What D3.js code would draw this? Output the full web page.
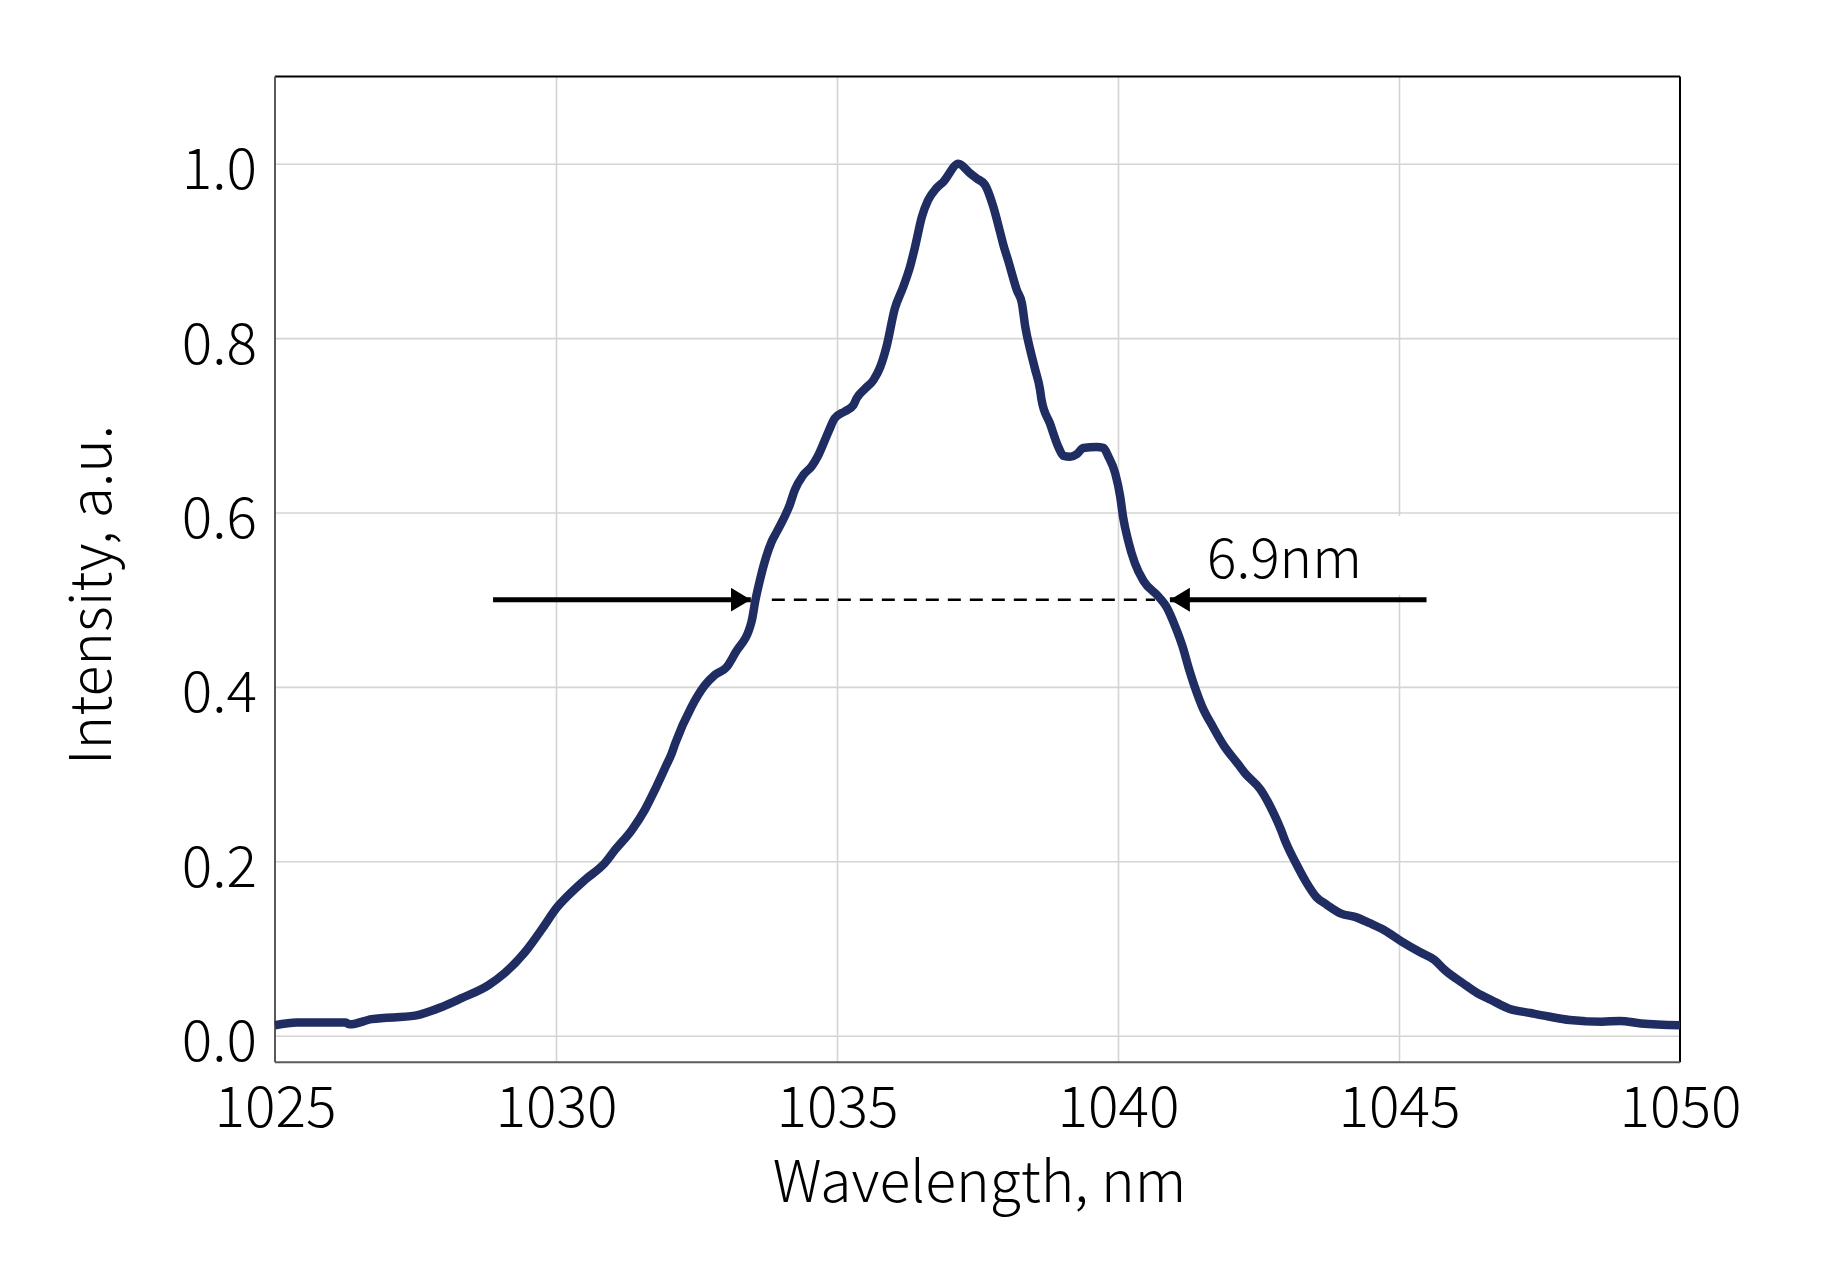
<!DOCTYPE html>
<html>
<head>
<meta charset="utf-8">
<script src="https://cdn.jsdelivr.net/npm/d3@7"></script>
<style>
  html, body { margin: 0; padding: 0; background: #fff; }
  svg { display: block; }
  text { font-family: "Noto Sans CJK SC", "Noto Sans", sans-serif; fill: #000; }
</style>
</head>
<body>
<script>
// ---- data ----
const wavelength = [1025.00,1025.39,1026.25,1026.33,1026.72,1027.49,1027.97,1028.32,1028.80,1029.09,1029.45,1029.80,1029.98,1030.22,1030.52,1030.87,1031.05,1031.35,1031.58,1031.76,1031.94,1032.06,1032.12,1032.41,1032.65,1032.83,1033.04,1033.19,1033.48,1033.55,1033.63,1033.84,1033.93,1034.16,1034.25,1034.40,1034.55,1034.67,1034.85,1034.96,1035.14,1035.29,1035.35,1035.50,1035.65,1035.77,1035.88,1036.03,1036.18,1036.30,1036.39,1036.51,1036.62,1036.77,1036.89,1037.16,1037.37,1037.49,1037.63,1037.78,1037.90,1037.96,1038.05,1038.20,1038.29,1038.35,1038.44,1038.53,1038.61,1038.64,1038.79,1038.94,1039.03,1039.15,1039.27,1039.38,1039.62,1039.74,1039.83,1039.95,1040.04,1040.09,1040.18,1040.30,1040.45,1040.73,1040.86,1041.02,1041.15,1041.27,1041.50,1041.69,1041.88,1042.13,1042.26,1042.54,1042.77,1042.90,1042.99,1043.18,1043.34,1043.53,1043.72,1043.97,1044.23,1044.48,1044.74,1045.05,1045.37,1045.63,1045.82,1046.14,1046.39,1046.64,1046.96,1047.34,1047.66,1048.04,1048.61,1048.93,1049.31,1050.00];
const intensity = [0.012,0.015,0.015,0.013,0.019,0.023,0.033,0.043,0.058,0.072,0.096,0.127,0.144,0.161,0.179,0.198,0.213,0.236,0.259,0.282,0.307,0.324,0.335,0.377,0.402,0.414,0.423,0.439,0.475,0.500,0.523,0.567,0.578,0.609,0.626,0.643,0.653,0.666,0.693,0.708,0.716,0.723,0.731,0.742,0.752,0.767,0.790,0.834,0.859,0.882,0.905,0.939,0.958,0.972,0.979,1.000,0.989,0.983,0.976,0.951,0.922,0.907,0.888,0.855,0.840,0.813,0.786,0.763,0.742,0.729,0.702,0.675,0.665,0.664,0.667,0.674,0.675,0.674,0.664,0.645,0.618,0.595,0.568,0.542,0.522,0.503,0.492,0.469,0.446,0.419,0.377,0.354,0.333,0.312,0.301,0.282,0.255,0.236,0.221,0.196,0.177,0.159,0.150,0.140,0.136,0.129,0.121,0.108,0.096,0.087,0.075,0.060,0.049,0.041,0.031,0.026,0.022,0.018,0.016,0.017,0.014,0.012];
const xTicks = [1025, 1030, 1035, 1040, 1045, 1050];
const yTicks = [0.0, 0.2, 0.4, 0.6, 0.8, 1.0];
const fwhmLevel = 0.5;
const fwhmLeft = 1033.52;
const fwhmRight = 1040.87;
const fwhmLabel = "6.9nm";
const xTitle = "Wavelength, nm";
const yTitle = "Intensity, a.u.";

// ---- layout ----
const W = 1840, H = 1280;
const L = 275, R = 1680, T = 76.5, B = 1062.3;

const svg = d3.select("body").append("svg").attr("width", W).attr("height", H);

const x = d3.scaleLinear().domain([1025, 1050]).range([L, R]);
const y = d3.scaleLinear().domain([-0.0305, 1.1]).range([B, T]);

// grid
const grid = svg.append("g");
grid.append("g").attr("transform", `translate(0,${B})`)
  .call(d3.axisBottom(x).tickValues(xTicks.slice(1, -1)).tickSize(-(B - T)).tickFormat(""))
  .call(g => g.select(".domain").remove())
  .call(g => g.selectAll("line").attr("stroke", "#d4d4d4").attr("stroke-width", 1.6));
grid.append("g").attr("transform", `translate(${L},0)`)
  .call(d3.axisLeft(y).tickValues(yTicks).tickSize(-(R - L)).tickFormat(""))
  .call(g => g.select(".domain").remove())
  .call(g => g.selectAll("line").attr("stroke", "#d4d4d4").attr("stroke-width", 1.6));

// white box behind label
svg.append("rect")
  .attr("x", x(1042.05)).attr("y", 516)
  .attr("width", x(1045.3) - x(1042.05)).attr("height", 595 - 516)
  .attr("fill", "#fff");

// frame
svg.append("line").attr("x1", L).attr("x2", R).attr("y1", T).attr("y2", T).attr("stroke", "#000").attr("stroke-width", 2);
svg.append("line").attr("x1", R).attr("x2", R).attr("y1", T).attr("y2", B).attr("stroke", "#000").attr("stroke-width", 2);
svg.append("line").attr("x1", L).attr("x2", L).attr("y1", T).attr("y2", B).attr("stroke", "#5a5a5a").attr("stroke-width", 2);
svg.append("line").attr("x1", L).attr("x2", R).attr("y1", B).attr("y2", B).attr("stroke", "#5a5a5a").attr("stroke-width", 2);

// axes labels
svg.append("g").attr("transform", `translate(0,${B})`)
  .call(d3.axisBottom(x).tickValues(xTicks).tickSize(0).tickFormat(d3.format("d")))
  .call(g => g.select(".domain").remove())
  .call(g => g.selectAll("text").attr("y", 65).attr("dy", 0)
    .attr("font-size", 57).attr("fill", "#000")
    .style("font-family", '"Noto Sans CJK SC", "Noto Sans", sans-serif').attr("font-weight", 300));

svg.append("g").attr("transform", `translate(${L},0)`)
  .call(d3.axisLeft(y).tickValues(yTicks).tickSize(0).tickFormat(d3.format(".1f")))
  .call(g => g.select(".domain").remove())
  .call(g => g.selectAll("text").attr("x", -18).attr("dy", 25)
    .attr("font-size", 57).attr("fill", "#000")
    .style("font-family", '"Noto Sans CJK SC", "Noto Sans", sans-serif').attr("font-weight", 300));

svg.append("text").attr("x", (L + R) / 2 + 2).attr("y", 1202)
  .attr("text-anchor", "middle").attr("font-size", 57).attr("font-weight", 300)
  .text(xTitle);

svg.append("text").attr("transform", "translate(111,595) rotate(-90)")
  .attr("text-anchor", "middle").attr("font-size", 57).attr("font-weight", 300)
  .text(yTitle);

// curve
const line = d3.line().x((d, i) => x(wavelength[i])).y(d => y(d)).curve(d3.curveMonotoneX);
svg.append("path").datum(intensity)
  .attr("d", line)
  .attr("fill", "none").attr("stroke", "#1f2d62").attr("stroke-width", 8.5)
  .attr("stroke-linejoin", "round").attr("stroke-linecap", "butt");

// FWHM annotation
const defs = svg.append("defs");
defs.append("marker").attr("id", "ah").attr("viewBox", "0 0 20 24")
  .attr("refX", 20).attr("refY", 12).attr("markerWidth", 20).attr("markerHeight", 24)
  .attr("markerUnits", "userSpaceOnUse").attr("orient", "auto")
  .append("path").attr("d", "M0,0 L20,12 L0,24 Z").attr("fill", "#000");

const yl = y(fwhmLevel);
svg.append("line").attr("x1", x(1028.88)).attr("x2", x(fwhmLeft) - 3).attr("y1", yl).attr("y2", yl)
  .attr("stroke", "#000").attr("stroke-width", 5).attr("marker-end", "url(#ah)");
svg.append("line").attr("x1", x(1045.49)).attr("x2", x(fwhmRight) + 3).attr("y1", yl).attr("y2", yl)
  .attr("stroke", "#000").attr("stroke-width", 5).attr("marker-end", "url(#ah)");
svg.append("line").attr("x1", x(fwhmLeft) + 18).attr("x2", x(fwhmRight) - 12).attr("y1", yl).attr("y2", yl)
  .attr("stroke", "#000").attr("stroke-width", 2.6).attr("stroke-dasharray", "13,9");

svg.append("text").attr("x", 1207).attr("y", 578)
  .attr("font-size", 55).attr("font-weight", 300)
  .text(fwhmLabel);
</script>
</body>
</html>
